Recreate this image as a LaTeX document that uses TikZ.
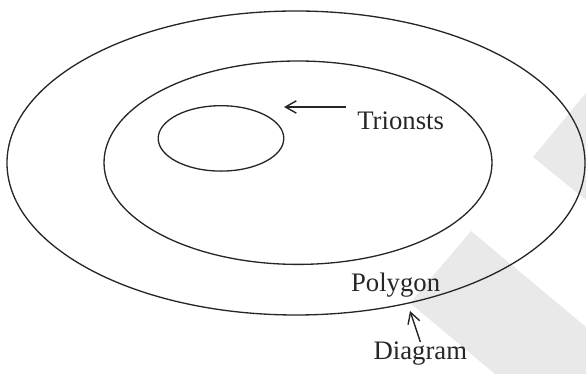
\documentclass[tikz,border=0pt]{standalone}
\usepackage{fontspec}
\setmainfont{Liberation Serif}
\usetikzlibrary{arrows.meta,positioning,calc}

\definecolor{inkgray}{RGB}{38,38,38}
\definecolor{markgray}{RGB}{233,233,233}
\tikzset{
    ring/.style={inkgray, line width=0.75pt},
    tag/.style={inner sep=0pt, anchor=base west, text=inkgray,
        font=\fontsize{15.2}{18}\selectfont},
    pointer/.style={inkgray, line width=0.8pt,
        -{Straight Barb[length=6.2pt,width=7pt]}},
}

\begin{document}
\begin{tikzpicture}
    \useasboundingbox (0,0) rectangle (11.72,7.48);

    % Watermark bands
    \fill[markgray] (10.66,4.34) -- (11.72,5.62) -- (11.72,3.48) -- cycle;
    \fill[markgray] (9.42,2.86) -- (11.72,0.94) -- (11.72,0) -- (9.90,0)
        -- (8.20,1.42) -- cycle;

    % Nested ellipses
    \draw[ring] (5.92,4.22) ellipse (5.78 and 3.04);
    \draw[ring] (5.96,4.226) ellipse (3.88 and 2.034);
    \draw[ring] (4.42,4.712) ellipse (1.256 and 0.654);

    % Labels
    \node[tag] (trionsts) at (7.14,4.894) {Trionsts};
    \node[tag] (polygon) at (7.014,1.646) {Polygon};
    \node[tag] (diagram) at (7.466,0.28) {Diagram};

    % Pointers
    \coordinate (trtail) at (6.92,5.34);
    \coordinate (trtip) at (5.68,5.34);
    \coordinate (dgtip) at (8.20,1.26);
    \draw[pointer] (trtail) -- (trtip);
    \draw[pointer] (diagram.north) -- (dgtip);
\end{tikzpicture}
\end{document}
